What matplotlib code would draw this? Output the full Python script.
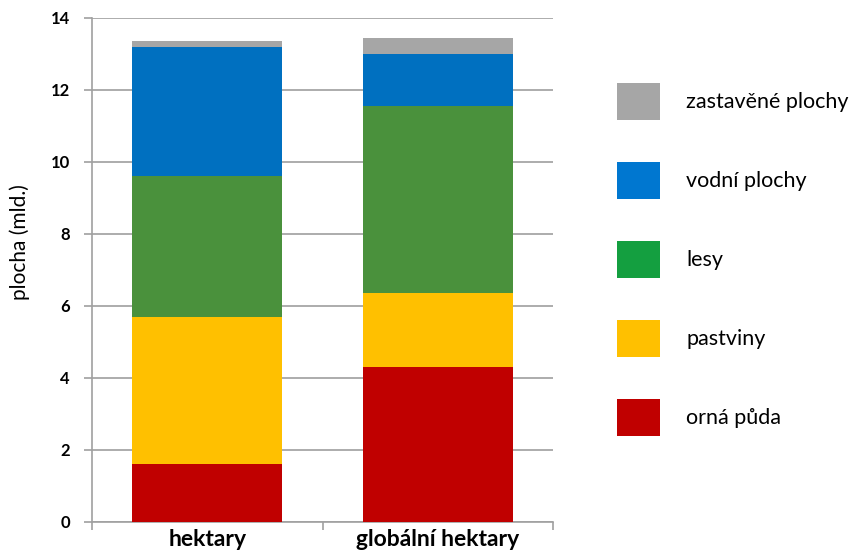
import matplotlib
matplotlib.use("Agg")
import matplotlib.pyplot as plt
from matplotlib.patches import Patch
import numpy as np

categories = ["hektary", "globální hektary"]
series_names = ["orná půda", "pastviny", "lesy", "vodní plochy", "zastavěné plochy"]
orna_puda = [1.6, 4.3]
pastviny = [4.1, 2.05]
lesy = [3.9, 5.2]
vodni_plochy = [3.6, 1.44]
zastavene_plochy = [0.15, 0.45]
y_ticks = [0, 2, 4, 6, 8, 10, 12, 14]

bar_colors = ["#C00000", "#FFC000", "#4A913C", "#0070C0", "#A6A6A6"]
legend_colors = ["#C00000", "#FFC000", "#149F40", "#0077D0", "#A6A6A6"]

plt.rcParams['font.family'] = ['Lato', 'DejaVu Sans']

fig = plt.figure(figsize=(8.55, 5.56), dpi=100)
ax = fig.add_axes([92/855, 1-522/556, (553-92)/855, (522-18)/556])

values = [orna_puda, pastviny, lesy, vodni_plochy, zastavene_plochy]
x = np.arange(len(categories))
bottom = np.zeros(len(categories))
for vals, col in zip(values, bar_colors):
    ax.bar(x, vals, width=0.65, bottom=bottom, color=col, zorder=3)
    bottom += np.array(vals)

ax.set_xlim(-0.5, 1.5)
ax.set_ylim(0, 14)
ax.set_yticks(y_ticks)
ax.set_yticklabels([str(t) for t in y_ticks], fontweight='bold', fontsize=12)
ax.set_xticks(x)
ax.set_xticklabels(categories, fontweight='bold', fontsize=16.5)
ax.tick_params(axis='x', length=0, pad=5)
ax.set_xticks([-0.5, 0.5, 1.5], minor=True)
ax.tick_params(axis='x', which='minor', length=6, color='#A0A0A0', width=1.2)
ax.tick_params(axis='y', length=6, color='#A0A0A0', width=1.2, pad=10)
ax.yaxis.grid(True, color='#A6A6A6', linewidth=1.3, zorder=0)
ax.set_axisbelow(True)
for s in ['top', 'right']:
    ax.spines[s].set_visible(False)
for s in ['left', 'bottom']:
    ax.spines[s].set_color('#A0A0A0')
    ax.spines[s].set_linewidth(1.2)
ax.set_ylabel("plocha (mld.)", fontsize=15)
ax.yaxis.set_label_coords(-0.134, 0.555)

handles = [Patch(facecolor=c, edgecolor='none', label=n) for c, n in zip(legend_colors, series_names)]
handles = handles[::-1]
fs = 15.5
pxfs = fs * 100 / 72
hh = (37/pxfs - 0.245) / 0.65
leg = fig.legend(handles=handles, loc='upper left', bbox_to_anchor=(617/855, 1-83/556),
                 frameon=False, fontsize=fs, handlelength=43/pxfs, handleheight=hh,
                 labelspacing=1.95, handletextpad=26/pxfs, borderaxespad=0, borderpad=0)

fig.savefig("out.png", dpi=100)
